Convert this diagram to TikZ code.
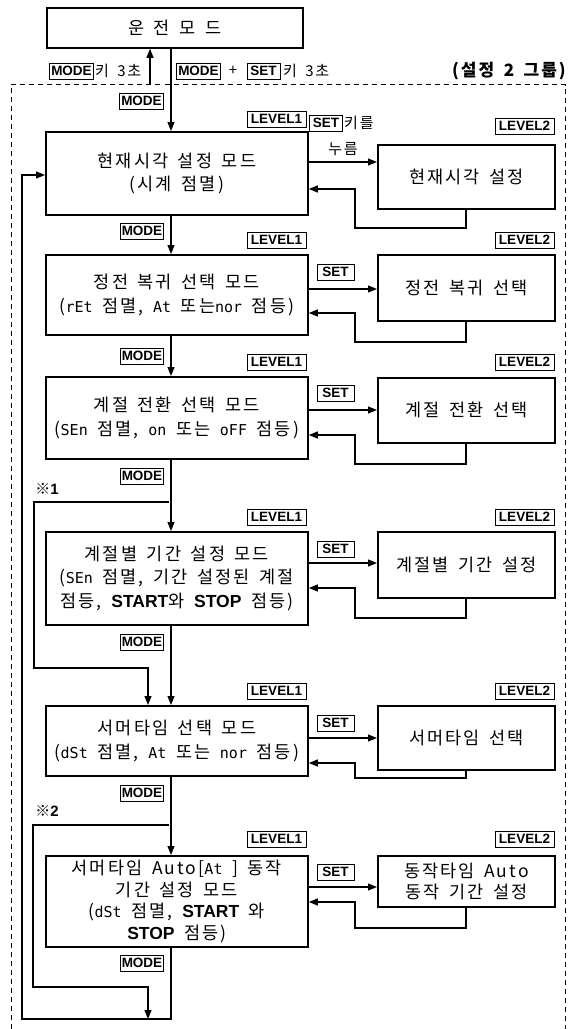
\documentclass[tikz,border=0pt]{standalone}
\usepackage{fontspec}
\setmainfont{Noto Sans CJK KR}[LetterSpace=12,WordSpace=1.6]
\newfontfamily\labf{Liberation Sans}
\newfontfamily\segf{DejaVu Sans Mono}
\usetikzlibrary{arrows.meta}
\newcommand\seg[1]{{\segf\fontsize{15}{15}\selectfont #1}}
\newcommand\bsf[1]{{\labf\bfseries #1}}
\newcommand\mainsz{\fontsize{17.5}{23.5}\selectfont}
\tikzset{
  l1box/.style={draw, line width=1.8pt, minimum width=262pt, align=center, anchor=north west, inner sep=0pt, font=\mainsz},
  l2box/.style={draw, line width=1.8pt, minimum width=177pt, align=center, anchor=north west, inner sep=0pt, font=\mainsz},
  lab/.style={draw, line width=0.8pt, inner xsep=1.5pt, inner ysep=0pt, text height=9.8pt, text depth=0pt, minimum height=16pt, font=\labf\bfseries\fontsize{13.5}{14}\selectfont},
  kt/.style={inner sep=0pt, font=\fontsize{15}{17}\selectfont},
  arr/.style={-{Triangle[length=9pt,width=7pt]}, line width=1.1pt},
  dsh/.style={line width=0.8pt, dash pattern=on 5pt off 4pt}
}
\begin{document}
\begin{tikzpicture}[x=1pt,y=-1pt]
\useasboundingbox (0,0) rectangle (572,1029);
% top
\node[l1box, minimum width=256pt, minimum height=40pt] (b0) at (46,7) {운 전 모 드};
\coordinate (upx) at (150,85);
\coordinate (mx) at (171,0);
\draw[arr] (upx) -- (upx |- b0.south);
\node[lab, minimum width=43pt] (mk1) at (71.5,71) {MODE};
\node[kt, anchor=west] (t1) at (95,71) {키 3초};
\node[lab, minimum width=43pt] (mk2) at (198.5,71) {MODE};
\node[kt] (plus) at (233,71) {+};
\node[lab, minimum width=33pt] (sk) at (263.5,71) {SET};
\node[kt, anchor=west] (t2) at (283,71) {키 3초};
\node[inner sep=0pt, anchor=east, font=\bfseries\fontsize{17}{18}\selectfont] (grp) at (566,71) {(설정 2 그룹)};
\draw[dsh] (11,1029) -- (11,84.5) -- (565,84.5) -- (565,1029);
\node[lab, minimum width=43pt] (m0) at (141.5,101) {MODE};

% row 1
\node[l1box, minimum height=83pt] (b1) at (45,131) {현재시각 설정 모드\\(시계 점멸)};
\node[l2box, minimum height=64pt] (c1) at (377,144) {현재시각 설정};
\node[lab, minimum width=59pt] (lv11) at (276.5,119) {LEVEL1};
\node[lab, minimum width=59pt] (lv12) at (524.5,126) {LEVEL2};
\node[lab, minimum width=33pt] (s1) at (326,123) {SET};
\node[kt, anchor=west] (k1) at (344,123) {키를};
\node[kt] (nr1) at (343,149) {누름};
\draw[arr] (b0.south -| mx) -- (b1.north -| mx);
\draw[arr] (b1.east |- 0,162) -- (c1.west |- 0,162);
\draw[arr] (c1.south -| 466,0) -- (466,228) -- (355,228) -- (355,189) -- (b1.east |- 0,189);
\node[lab, minimum width=43pt] (m1) at (142,231) {MODE};

% row 2
\node[l1box, minimum height=80pt] (b2) at (45,254) {정전 복귀 선택 모드\\(\seg{rEt} 점멸, \seg{At} 또는\seg{nor} 점등)};
\node[l2box, minimum height=66pt] (c2) at (377,254) {정전 복귀 선택};
\node[lab, minimum width=59pt] (lv21) at (276.5,240) {LEVEL1};
\node[lab, minimum width=59pt] (lv22) at (524.5,240) {LEVEL2};
\node[lab, minimum width=37pt] (s2) at (335.5,272) {SET};
\draw[arr] (b1.south -| mx) -- (b2.north -| mx);
\draw[arr] (b2.east |- 0,289) -- (c2.west |- 0,289);
\draw[arr] (c2.south -| 466,0) -- (466,342) -- (355,342) -- (355,313) -- (b2.east |- 0,313);
\node[lab, minimum width=43pt] (m2) at (142,356) {MODE};

% row 3
\node[l1box, minimum height=82pt] (b3) at (45,376) {계절 전환 선택 모드\\(\seg{SEn} 점멸, \seg{on} 또는 \seg{oFF} 점등)};
\node[l2box, minimum height=65pt] (c3) at (377,377) {계절 전환 선택};
\node[lab, minimum width=59pt] (lv31) at (276.5,362) {LEVEL1};
\node[lab, minimum width=59pt] (lv32) at (524.5,362) {LEVEL2};
\node[lab, minimum width=37pt] (s3) at (335.5,393) {SET};
\draw[arr] (b2.south -| mx) -- (b3.north -| mx);
\draw[arr] (b3.east |- 0,410) -- (c3.west |- 0,410);
\draw[arr] (c3.south -| 466,0) -- (466,464) -- (355,464) -- (355,435) -- (b3.east |- 0,435);
\node[lab, minimum width=43pt] (m3) at (142,476) {MODE};
\node[kt] (nt1) at (47,489) {※\bsf{1}};

% row 4
\node[l1box, minimum height=93pt] (b4) at (45,531) {계절별 기간 설정 모드\\(\seg{SEn} 점멸, 기간 설정된 계절\\점등, \bsf{START}와 \bsf{STOP} 점등)};
\node[l2box, minimum height=66pt] (c4) at (377,531) {계절별 기간 설정};
\node[lab, minimum width=59pt] (lv41) at (276.5,517) {LEVEL1};
\node[lab, minimum width=59pt] (lv42) at (524.5,517) {LEVEL2};
\node[lab, minimum width=37pt] (s4) at (335.5,549) {SET};
\draw[arr] (b3.south -| mx) -- (b4.north -| mx);
\draw[arr] (b4.east |- 0,563) -- (c4.west |- 0,563);
\draw[arr] (c4.south -| 466,0) -- (466,618) -- (355,618) -- (355,588) -- (b4.east |- 0,588);
\node[lab, minimum width=43pt] (m4) at (142,642) {MODE};

% row 5
\node[l1box, minimum height=70pt] (b5) at (45,705) {서머타임 선택 모드\\(\seg{dSt} 점멸, \seg{At} 또는 \seg{nor} 점등)};
\node[l2box, minimum height=64pt] (c5) at (377,705) {서머타임 선택};
\node[lab, minimum width=59pt] (lv51) at (276.5,691) {LEVEL1};
\node[lab, minimum width=59pt] (lv52) at (524.5,691) {LEVEL2};
\node[lab, minimum width=37pt] (s5) at (335.5,723) {SET};
\draw[arr] (b4.south -| mx) -- (b5.north -| mx);
\draw[arr] (b5.east |- 0,738) -- (c5.west |- 0,738);
\draw[arr] (c5.south -| 466,0) -- (466,778) -- (355,778) -- (355,763) -- (b5.east |- 0,763);
\node[lab, minimum width=43pt] (m5) at (142,793) {MODE};
\node[kt] (nt2) at (47,811) {※\bsf{2}};

% row 6
\node[l1box, minimum height=91pt, font=\fontsize{17.5}{21.5}\selectfont] (b6) at (45,855) {서머타임 Auto[\seg{At} ] 동작\\기간 설정 모드\\(\seg{dSt} 점멸, \bsf{START} 와\\\bsf{STOP} 점등)};
\node[l2box, minimum height=51pt, font=\fontsize{17.5}{21.5}\selectfont] (c6) at (377,855) {동작타임 Auto\\동작 기간 설정};
\node[lab, minimum width=59pt] (lv61) at (276.5,839) {LEVEL1};
\node[lab, minimum width=59pt] (lv62) at (524.5,839) {LEVEL2};
\node[lab, minimum width=37pt] (s6) at (335.5,872) {SET};
\draw[arr] (b5.south -| mx) -- (b6.north -| mx);
\draw[arr] (b6.east |- 0,887) -- (c6.west |- 0,887);
\draw[arr] (c6.south -| 466,0) -- (466,928) -- (355,928) -- (355,902) -- (b6.east |- 0,902);
\node[lab, minimum width=43pt] (m6) at (142,963) {MODE};

% loops
\coordinate (j1) at (169,502);
\coordinate (j2) at (169,825);
\coordinate (e2) at (148,1019);
\draw[arr] (j1) -- (34,502) -- (34,668) -- (148,668) -- (b5.north -| 148,0);
\draw[arr] (j2) -- (33,825) -- (33,987) -- (148,987) -- (e2);
\draw[arr] (b6.south -| mx) -- (171,1019) -- (22,1019) -- (22,175) -- (b1.west |- 0,175);
\end{tikzpicture}
\end{document}
